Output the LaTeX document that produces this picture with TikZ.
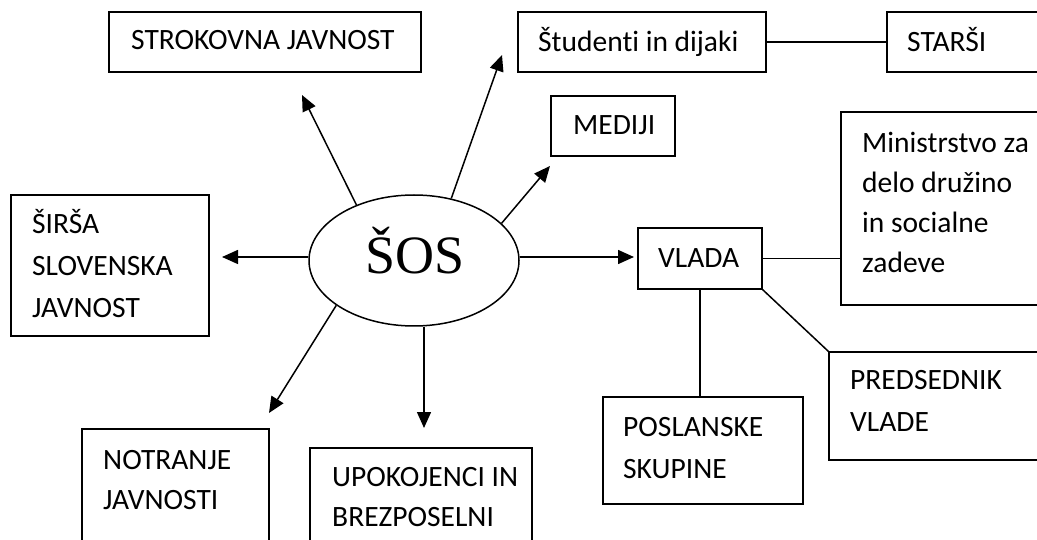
\documentclass[tikz,border=0pt]{standalone}
\usepackage{fontspec}
\setmainfont{Carlito}[Ligatures=NoCommon]
\newfontfamily\sosfont{Liberation Serif}
\usetikzlibrary{shapes.geometric,arrows.meta}
\begin{document}
\begin{tikzpicture}[x=1pt,y=-1pt,
  box/.style={draw,line width=1.5pt,rectangle,inner sep=0pt},
  lbl/.style={anchor=base west,inner sep=0pt,font=\fontsize{29.5}{34}\selectfont},
  arr/.style={line width=1.5pt,-{Triangle[length=16pt,width=14pt]}},
  ln/.style={line width=1.5pt}]
\useasboundingbox (0,0) rectangle (1037,540);
\clip (0,0) rectangle (1037,540);
\fill[white] (0,0) rectangle (1037,540);

% central ellipse
\node[draw,ellipse,line width=1.5pt,minimum width=210pt,minimum height=131pt,inner sep=0pt] (sos) at (414,260.5) {};
\node[anchor=base,inner sep=0pt,font=\sosfont\fontsize{54}{60}\selectfont] (sostxt) at (415,274) {ŠOS};

% boxes
\node[box,minimum width=312pt,minimum height=60pt] (strok) at (265,42) {};
\node[box,minimum width=248pt,minimum height=60pt] (stud) at (642,42) {};
\node[box,minimum width=173pt,minimum height=60pt] (star) at (973.5,42) {};
\node[box,minimum width=124pt,minimum height=60pt] (medi) at (613,126) {};
\node[box,minimum width=219pt,minimum height=193pt] (mini) at (950.5,208.5) {};
\node[box,minimum width=198pt,minimum height=141pt] (sirs) at (110,265.5) {};
\node[box,minimum width=124pt,minimum height=61pt] (vlada) at (700,258.5) {};
\node[box,minimum width=231pt,minimum height=108pt] (pred) at (944.5,406) {};
\node[box,minimum width=200pt,minimum height=107pt] (posl) at (703,450.5) {};
\node[box,minimum width=187pt,minimum height=131pt] (notr) at (175.5,494.5) {};
\node[box,minimum width=222pt,minimum height=112pt] (upok) at (421,504) {};

% texts
\node[lbl] (tstrok) at (131,50) {STROKOVNA JAVNOST};
\node[lbl] (tstud) at (538,52) {Študenti in dijaki};
\node[lbl] (tstar) at (907,52) {STARŠI};
\node[lbl] (tmedi) at (573,135) {MEDIJI};
\node[lbl] (tmin1) at (862,153) {Ministrstvo za};
\node[lbl] (tmin2) at (862,193) {delo družino};
\node[lbl] (tmin3) at (862,233) {in socialne};
\node[lbl] (tmin4) at (862,273) {zadeve};
\node[lbl] (tsir1) at (32,234) {ŠIRŠA};
\node[lbl] (tsir2) at (32,276) {SLOVENSKA};
\node[lbl] (tsir3) at (32,318) {JAVNOST};
\node[lbl] (tvlada) at (658,268) {VLADA};
\node[lbl] (tpred1) at (850,389) {PREDSEDNIK};
\node[lbl] (tpred2) at (850,431) {VLADE};
\node[lbl] (tposl1) at (623,436) {POSLANSKE};
\node[lbl] (tposl2) at (623,478) {SKUPINE};
\node[lbl] (tnotr1) at (103,469) {NOTRANJE};
\node[lbl] (tnotr2) at (103,509) {JAVNOSTI};
\node[lbl] (tupok1) at (332,486) {UPOKOJENCI IN};
\node[lbl] (tupok2) at (332,526) {BREZPOSELNI};

% arrow tips
\coordinate (tipK) at (302,95);
\coordinate (tipD) at (502,55);
\coordinate (tipM) at (550,166);
\coordinate (tipV) at (634,257);
\coordinate (tipS) at (222,257);
\coordinate (tipN) at (269,413);
\coordinate (tipU) at (424,428);

% arrows from SOS
\draw[arr] (sos.136) -- (tipK);
\draw[arr] (sos.59) -- (tipD);
\draw[arr] (sos.23) -- (tipM);
\draw[arr] (sos.east |- tipV) -- (tipV);
\draw[arr] (sos.west |- tipS) -- (tipS);
\draw[arr] (sos.210) -- (tipN);
\draw[arr] (tipU |- sos.south) -- (tipU);

% plain connectors
\draw[ln] (stud.east) -- (stud.east -| star.west);
\draw[ln] (vlada.east) -- (vlada.east -| mini.west);
\draw[ln] (vlada.south) -- (vlada.south |- posl.north);
\draw[ln] (vlada.south east) -- (pred.north west);
\end{tikzpicture}
\end{document}
